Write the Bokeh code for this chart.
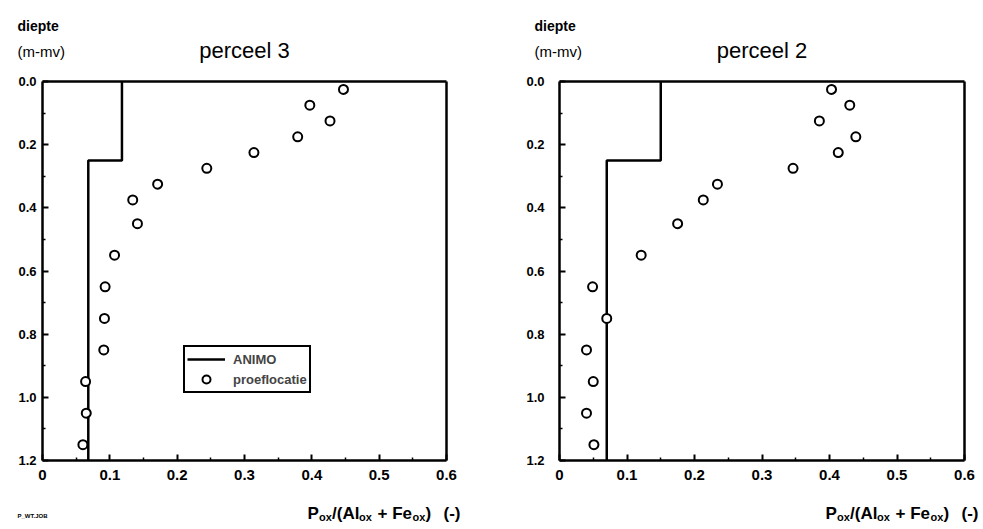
from bokeh.plotting import figure
from bokeh.layouts import row
from bokeh.models import (Range1d, FixedTicker, PrintfTickFormatter, CustomJSTickFormatter,
                          Label, Legend, LegendItem, LinearAxis)
from bokeh.embed import file_html
from bokeh.resources import INLINE

# ---------------- data ----------------
depth = [0.025, 0.075, 0.125, 0.175, 0.225, 0.275, 0.325, 0.375, 0.45, 0.55,
         0.65, 0.75, 0.85, 0.95, 1.05, 1.15]
ratio_perceel3 = [0.447, 0.397, 0.427, 0.379, 0.314, 0.244, 0.171, 0.134, 0.141, 0.107,
                  0.093, 0.092, 0.091, 0.064, 0.065, 0.060]
ratio_perceel2 = [0.403, 0.430, 0.385, 0.439, 0.413, 0.346, 0.234, 0.213, 0.175, 0.121,
                  0.049, 0.070, 0.040, 0.050, 0.040, 0.051]
animo_layer_top = [0.0, 0.25]
animo_layer_bottom = [0.25, 1.2]
animo_perceel3 = [0.118, 0.068]
animo_perceel2 = [0.150, 0.070]
x_major = [0.0, 0.1, 0.2, 0.3, 0.4, 0.5, 0.6]
x_minor = [0.05, 0.15, 0.25, 0.35, 0.45, 0.55]
y_major = [0.0, 0.2, 0.4, 0.6, 0.8, 1.0, 1.2]
y_minor = [0.1, 0.3, 0.5, 0.7, 0.9, 1.1]
X_MIN, X_MAX = 0.0, 0.6
Y_MIN, Y_MAX = 0.0, 1.2

FONT = "Liberation Sans"
FIG_H = 529
BOX_TOP, BOX_BOTTOM = 81, 460   # pixel rows of the plotting box


def animo_path(values):
    xs, ys = [], []
    for top, bot, v in zip(animo_layer_top, animo_layer_bottom, values):
        xs += [v, v]
        ys += [top, bot]
    return xs, ys


def make_panel(title, ratios, animo, width, box_left, box_right, ystandoff, xlabel_x,
               ylab_x, with_legend, job=None):
    # the frame covers the whole canvas; the plotting box (0..0.6 x 0..1.2)
    # sits at the given pixel columns/rows and is drawn by fixed-location axes
    xs = (X_MAX - X_MIN) / (box_right - box_left)
    ys = (Y_MAX - Y_MIN) / (BOX_BOTTOM - BOX_TOP)
    x_start = X_MIN - box_left * xs
    x_end = X_MIN + (width - box_left) * xs
    y_top = Y_MIN - BOX_TOP * ys
    y_bot = Y_MIN + (FIG_H - BOX_TOP) * ys

    p = figure(width=width, height=FIG_H, output_backend="svg", toolbar_location=None,
               x_range=Range1d(x_start, x_end), y_range=Range1d(y_bot, y_top),
               min_border=0)
    p.title.visible = False
    p.grid.visible = False
    p.outline_line_color = None
    p.background_fill_color = "white"
    p.border_fill_color = "white"

    xa = p.xaxis[0]
    ya = p.yaxis[0]
    xa.fixed_location = Y_MAX
    ya.fixed_location = X_MIN
    xa.bounds = (X_MIN, X_MAX)
    ya.bounds = (Y_MIN, Y_MAX)
    for ax in (xa, ya):
        ax.axis_line_width = 2.5
        ax.axis_line_color = "black"
        ax.major_tick_in = 6
        ax.major_tick_out = 0
        ax.minor_tick_in = 3
        ax.minor_tick_out = 0
        ax.major_tick_line_width = 2
        ax.minor_tick_line_width = 1.5
        ax.major_label_text_font = FONT
        ax.major_label_text_font_style = "bold"
        ax.major_label_text_color = "black"
    xa.ticker = FixedTicker(ticks=x_major, minor_ticks=x_minor)
    ya.ticker = FixedTicker(ticks=y_major, minor_ticks=y_minor)
    ya.formatter = PrintfTickFormatter(format="%.1f")
    xa.formatter = CustomJSTickFormatter(code="return tick == 0 ? '0' : tick.toFixed(1);")
    xa.major_label_text_font_size = "15px"
    ya.major_label_text_font_size = "13px"
    xa.major_label_standoff = 9
    ya.major_label_standoff = ystandoff

    # top and right edges of the box
    top_ax = LinearAxis(fixed_location=Y_MIN, bounds=(X_MIN, X_MAX),
                        ticker=FixedTicker(ticks=[], minor_ticks=[]),
                        axis_line_width=2.5, axis_line_color="black")
    right_ax = LinearAxis(fixed_location=X_MAX, bounds=(Y_MIN, Y_MAX),
                          ticker=FixedTicker(ticks=[], minor_ticks=[]),
                          axis_line_width=2.5, axis_line_color="black")
    p.add_layout(top_ax, "above")
    p.add_layout(right_ax, "right")

    ax_x, ax_y = animo_path(animo)
    r_line = p.line(ax_x, ax_y, line_color="black", line_width=2.5)
    r_pts = p.scatter(ratios, depth, marker="circle", size=9, line_width=2,
                      line_color="black", fill_color="white")

    def lab(txt, px, py, size, style="normal", align="left"):
        p.add_layout(Label(x=px, y=FIG_H - py, x_units="screen", y_units="screen",
                           text=txt, text_font=FONT, text_font_size=size,
                           text_font_style=style, text_align=align,
                           text_baseline="alphabetic", text_color="black"))

    lab("diepte", ylab_x, 25, "14px", "bold")
    lab("(m-mv)", ylab_x, 51, "15px")
    lab(title, (box_left + box_right) / 2, 50, "22px", align="center")

    # x axis label with subscripts
    base = 513
    segs = [("P", 0, False), ("ox", 11.5, True), ("/(Al", 24.5, False), ("ox", 51.5, True),
            ("+ Fe", 70, False), ("ox", 105, True), (")", 118, False), ("(-)", 136, False)]
    for txt, off, sub in segs:
        if sub:
            lab(txt, xlabel_x + off, base + 3, "11px", "bold")
        else:
            lab(txt, xlabel_x + off, base, "17px", "bold")

    if job:
        lab(job, 17, 515, "6px", "bold")

    if with_legend:
        legend = Legend(items=[LegendItem(label="ANIMO", renderers=[r_line]),
                               LegendItem(label="proeflocatie", renderers=[r_pts])],
                        location=(183, FIG_H - 393),
                        glyph_width=38, glyph_height=20, label_height=14,
                        spacing=0, padding=2, margin=0, label_standoff=8,
                        label_text_font=FONT, label_text_font_size="13px",
                        label_text_font_style="bold",
                        border_line_color="black", border_line_width=2, border_line_alpha=1.0,
                        background_fill_alpha=1.0)
        p.add_layout(legend)
    return p


p3 = make_panel("perceel 3", ratio_perceel3, animo_perceel3, 490, 42, 446, 6, 307, 17, True, "P_WT.JOB")
p2 = make_panel("perceel 2", ratio_perceel2, animo_perceel2, 493, 69, 474, 15, 335, 44, False)

layout = row(p3, p2)
open("out.html", "w").write(file_html(layout, INLINE))
